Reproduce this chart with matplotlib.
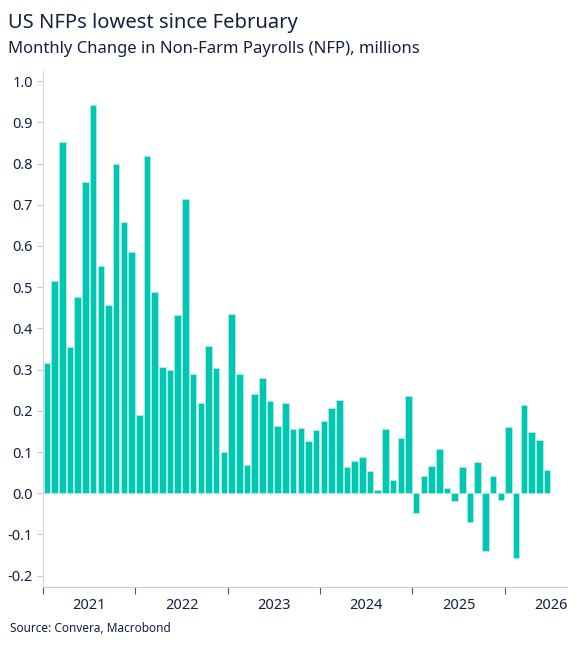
import matplotlib.pyplot as plt
import numpy as np

plt.rcParams['font.family'] = ['Noto Sans', 'DejaVu Sans']

# monthly change in NFP, millions, Jan 2021 onward
nfp = [0.315, 0.516, 0.851, 0.354, 0.477, 0.754, 0.942, 0.551, 0.456, 0.800, 0.657, 0.585,
       0.189, 0.819, 0.489, 0.307, 0.300, 0.433, 0.714, 0.289, 0.219, 0.357, 0.303, 0.099,
       0.434, 0.290, 0.068, 0.240, 0.280, 0.224, 0.164, 0.218, 0.156, 0.159, 0.127, 0.154,
       0.175, 0.206, 0.227, 0.064, 0.078, 0.087, 0.053, 0.009, 0.155, 0.033, 0.134, 0.237,
       -0.048, 0.042, 0.067, 0.108, 0.013, -0.019, 0.064, -0.070, 0.076, -0.140, 0.041, -0.017,
       0.160, -0.156, 0.214, 0.148, 0.129, 0.056]
years = ['2021', '2022', '2023', '2024', '2025', '2026']

navy = '#14213d'
fig = plt.figure(figsize=(5.83, 6.47), dpi=100)
ax = fig.add_axes([0.074, 0.093, 0.8985, 0.797])

x = np.arange(len(nfp))
ax.bar(x, nfp, width=0.85, color='#00c7b1', edgecolor='#b8efe7', linewidth=0.5)

ax.set_xlim(-0.5, 67.6)
ax.set_ylim(-0.227, 1.024)
ax.set_yticks(np.arange(-0.2, 1.01, 0.1))
ax.set_yticklabels([f'{v:.1f}' for v in np.arange(-0.2, 1.01, 0.1)])
ax.set_xticks([-0.5 + 12 * i for i in range(6)])
ax.set_xticklabels([])
ax.set_xticks([5.5 + 12 * i for i in range(len(years))], minor=True)
ax.set_xticklabels(years, minor=True)
ax.tick_params(axis='x', which='minor', length=0, pad=8, labelsize=10.5, labelcolor=navy)
ax.tick_params(axis='x', which='major', length=5, color='#555555')
ax.tick_params(axis='y', length=4, color='#cccccc', labelsize=10.5, labelcolor=navy)
for s in ['top', 'right']:
    ax.spines[s].set_visible(False)
ax.spines['left'].set_color('#d9d9d9')
ax.spines['bottom'].set_color('#cccccc')

fig.text(0.014, 0.965, 'US NFPs lowest since February', fontsize=14.5, fontweight='bold', color=navy, va='center')
fig.text(0.014, 0.925, 'Monthly Change in Non-Farm Payrolls (NFP), millions', fontsize=12, color=navy, va='center')
fig.text(0.017, 0.028, 'Source: Convera, Macrobond', fontsize=8.5, color=navy, va='center')

fig.savefig('out.png', dpi=100)
